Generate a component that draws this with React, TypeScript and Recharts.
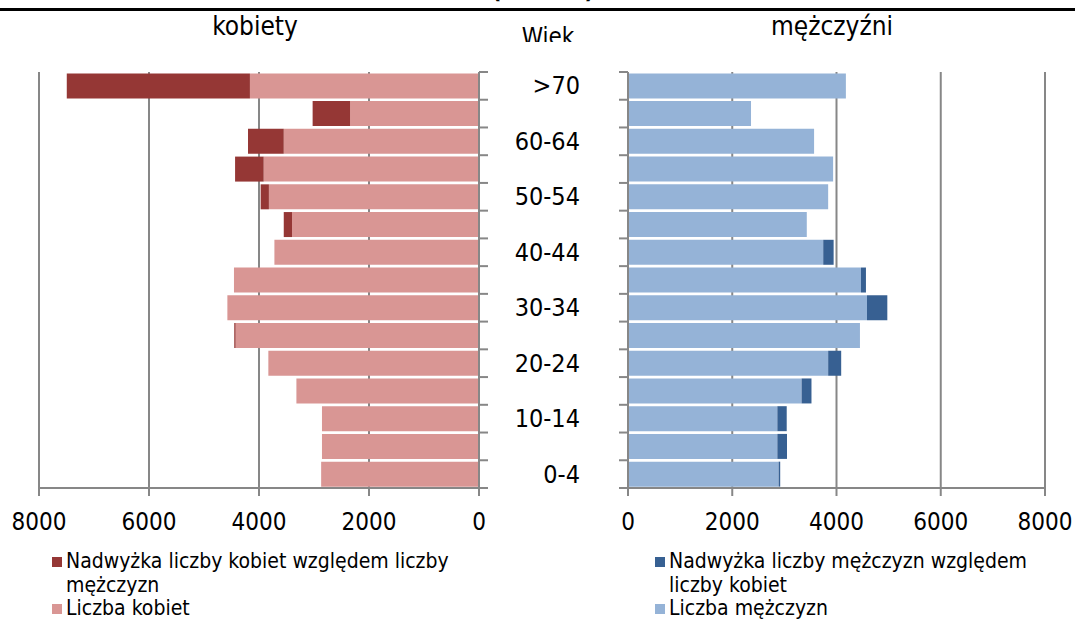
import React from "react";
import { Bar, BarChart, CartesianGrid, XAxis, YAxis } from "recharts";

// age groups, bottom to top
const ageGroups = [
  "0-4", "5-9", "10-14", "15-19", "20-24", "25-29", "30-34", "35-39",
  "40-44", "45-49", "50-54", "55-59", "60-64", "65-69", ">70",
];
const womenBase = [2870, 2855, 2855, 3320, 3830, 4425, 4575, 4455, 3720, 3400, 3820, 3915, 3550, 2345, 4165];
const womenExcess = [0, 0, 0, 0, 0, 25, 0, 0, 0, 150, 150, 520, 650, 680, 3330];
const menBase = [2890, 2865, 2865, 3330, 3840, 4450, 4585, 4470, 3745, 3430, 3840, 3935, 3570, 2360, 4180];
const menExcess = [30, 185, 180, 190, 250, 0, 390, 95, 200, 0, 0, 0, 0, 0, 0];
const axisTicks = [0, 2000, 4000, 6000, 8000];

const rows = ageGroups.map((age, i) => ({
  age,
  kBase: womenBase[i],
  kExcess: womenExcess[i],
  mBase: menBase[i],
  mExcess: menExcess[i],
}));

const GRID = "#878787";
const DARK_RED = "#953735";
const LIGHT_RED = "#D99694";
const DARK_BLUE = "#376092";
const LIGHT_BLUE = "#95B3D7";
const FONT = "'DejaVu Sans Condensed', 'DejaVu Sans', sans-serif";

const PLOT_TOP = 72;
const PLOT_H = 416;
const BAND = PLOT_H / ageGroups.length;

function leftTick(p: any) {
  const { x, y, index, payload } = p;
  return (
    <g>
      <line x1={x} x2={x + 9} y1={y - BAND / 2} y2={y - BAND / 2} stroke={GRID} strokeWidth={2} />
      {index === 0 && (
        <line x1={x} x2={x + 9} y1={y + BAND / 2} y2={y + BAND / 2} stroke={GRID} strokeWidth={2} />
      )}
      {index % 2 === 0 && (
        <text x={x + 101} y={y} textAnchor="end" dominantBaseline="central" fontSize={25} fill="#000" fontFamily={FONT}>
          {payload.value}
        </text>
      )}
    </g>
  );
}

function rightTick(p: any) {
  const { x, y, index } = p;
  return (
    <g>
      <line x1={x - 9} x2={x} y1={y - BAND / 2} y2={y - BAND / 2} stroke={GRID} strokeWidth={2} />
      {index === 0 && (
        <line x1={x - 9} x2={x} y1={y + BAND / 2} y2={y + BAND / 2} stroke={GRID} strokeWidth={2} />
      )}
    </g>
  );
}

function LegendBox({ items, left, width }: { items: { color: string; label: string }[]; left: number; width: number }) {
  return (
    <div style={{ position: "absolute", left, top: 550, width, fontFamily: FONT, fontSize: 21, lineHeight: "23.6px" }}>
      {items.map((it) => (
        <div key={it.label} style={{ display: "flex", alignItems: "flex-start" }}>
          <span style={{ width: 10, height: 10, background: it.color, marginTop: 7, marginRight: 4, flexShrink: 0 }} />
          <span>{it.label}</span>
        </div>
      ))}
    </div>
  );
}

export default function App() {
  const xAxisProps = {
    type: "number" as const,
    domain: [0, 8000],
    ticks: axisTicks,
    allowDataOverflow: true,
    height: 42,
    axisLine: { stroke: GRID, strokeWidth: 2 },
    tickLine: { stroke: GRID, strokeWidth: 2 },
    tickSize: 8,
    tickMargin: 17,
    tick: { fill: "#000", fontSize: 24, fontFamily: FONT },
  };
  return (
    <div style={{ position: "absolute", left: 0, top: 0, width: 1075, height: 620, background: "#fff", overflow: "hidden", fontFamily: FONT }}>
      <div style={{ position: "absolute", left: 0, top: 0, width: 1075, height: 6, overflow: "hidden" }}>
        <div style={{ position: "absolute", left: 443, width: 200, top: -24, textAlign: "center", fontSize: 24, fontWeight: "bold", lineHeight: "28px" }}>
          (2010 r.)
        </div>
      </div>
      <div style={{ position: "absolute", left: 0, top: 8, width: 1075, height: 3, background: "#000" }} />
      <div style={{ position: "absolute", left: 155, width: 200, top: 12, textAlign: "center", fontSize: 26, lineHeight: "28px" }}>kobiety</div>
      <div style={{ position: "absolute", left: 732, width: 200, top: 12, textAlign: "center", fontSize: 26, lineHeight: "28px" }}>mężczyźni</div>
      <div style={{ position: "absolute", left: 448, width: 200, top: 0, height: 42, overflow: "hidden" }}>
        <div style={{ position: "absolute", left: 0, width: 200, top: 25, textAlign: "center", fontSize: 24, lineHeight: "24px" }}>Wiek</div>
      </div>

      <div style={{ position: "absolute", left: 0, top: 0 }}>
        <BarChart
          width={600}
          height={PLOT_TOP + PLOT_H + 42}
          data={rows}
          layout="vertical"
          margin={{ top: PLOT_TOP, right: 0, bottom: 0, left: 39 }}
          barCategoryGap="5%"
        >
          <CartesianGrid horizontal={false} stroke={GRID} strokeWidth={2} />
          <XAxis {...xAxisProps} reversed />
          <YAxis
            type="category"
            dataKey="age"
            orientation="right"
            reversed
            width={121}
            interval={0}
            axisLine={{ stroke: GRID, strokeWidth: 2 }}
            tickLine={false}
            tickSize={0}
            tickMargin={0}
            tick={leftTick}
          />
          <Bar dataKey="kBase" stackId="k" fill={LIGHT_RED} isAnimationActive={false} />
          <Bar dataKey="kExcess" stackId="k" fill={DARK_RED} isAnimationActive={false} />
        </BarChart>
      </div>

      <div style={{ position: "absolute", left: 600, top: 0 }}>
        <BarChart
          width={475}
          height={PLOT_TOP + PLOT_H + 42}
          data={rows}
          layout="vertical"
          margin={{ top: PLOT_TOP, right: 30, bottom: 0, left: 0 }}
          barCategoryGap="5%"
        >
          <CartesianGrid horizontal={false} stroke={GRID} strokeWidth={2} />
          <XAxis {...xAxisProps} />
          <YAxis
            type="category"
            dataKey="age"
            reversed
            width={28}
            interval={0}
            axisLine={{ stroke: GRID, strokeWidth: 2 }}
            tickLine={false}
            tickSize={0}
            tickMargin={0}
            tick={rightTick}
          />
          <Bar dataKey="mBase" stackId="m" fill={LIGHT_BLUE} isAnimationActive={false} />
          <Bar dataKey="mExcess" stackId="m" fill={DARK_BLUE} isAnimationActive={false} />
        </BarChart>
      </div>

      <LegendBox
        left={52}
        width={410}
        items={[
          { color: DARK_RED, label: "Nadwyżka liczby kobiet względem liczby mężczyzn" },
          { color: LIGHT_RED, label: "Liczba kobiet" },
        ]}
      />
      <LegendBox
        left={655}
        width={380}
        items={[
          { color: DARK_BLUE, label: "Nadwyżka liczby mężczyzn względem liczby kobiet" },
          { color: LIGHT_BLUE, label: "Liczba mężczyzn" },
        ]}
      />
    </div>
  );
}
